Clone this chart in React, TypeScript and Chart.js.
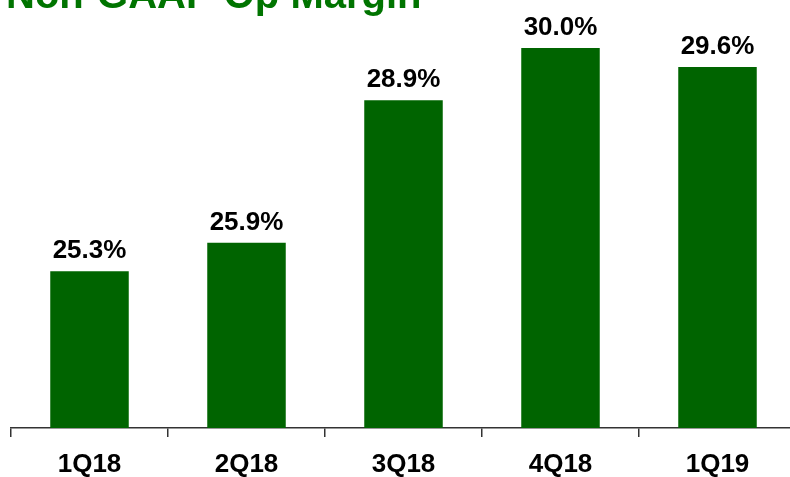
import React, { useEffect, useRef } from "react";
import { Chart, registerables } from "chart.js";

Chart.register(...registerables);

const categories = ["1Q18", "2Q18", "3Q18", "4Q18", "1Q19"];
const opMargin = [25.3, 25.9, 28.9, 30.0, 29.6];
const valueLabels = ["25.3%", "25.9%", "28.9%", "30.0%", "29.6%"];
const titleText = "Non-GAAP Op Margin";

const FONT = "'Liberation Sans', Arial, Helvetica, sans-serif";
const BAR_GREEN = "#006400";
const TITLE_GREEN = "#007400";

const labelPlugin = {
  id: "valueLabels",
  afterDatasetsDraw(chart: any) {
    const ctx = chart.ctx;
    const meta = chart.getDatasetMeta(0);
    ctx.save();
    ctx.font = `bold 26px ${FONT}`;
    ctx.fillStyle = "#000";
    ctx.textAlign = "center";
    ctx.textBaseline = "alphabetic";
    meta.data.forEach((bar: any, i: number) => {
      ctx.fillText(valueLabels[i], bar.x, bar.y - 13);
    });
    ctx.restore();
  },
  afterDraw(chart: any) {
    const ctx = chart.ctx;
    ctx.save();
    ctx.font = `bold 40px ${FONT}`;
    ctx.fillStyle = TITLE_GREEN;
    ctx.textAlign = "left";
    ctx.textBaseline = "alphabetic";
    ctx.fillText(titleText, 6, 8);
    ctx.restore();
  },
};

export default function App() {
  const canvasRef = useRef<HTMLCanvasElement>(null);

  useEffect(() => {
    const canvas = canvasRef.current;
    if (!canvas) return;
    const chart = new Chart(canvas, {
      type: "bar",
      data: {
        labels: categories,
        datasets: [
          {
            data: opMargin,
            backgroundColor: BAR_GREEN,
            borderWidth: 0,
            barPercentage: 0.5,
            categoryPercentage: 1,
          },
        ],
      },
      options: {
        responsive: false,
        animation: false,
        devicePixelRatio: 1,
        layout: { padding: { top: 48, left: 11, right: 4, bottom: 0 } },
        plugins: {
          legend: { display: false },
          tooltip: { enabled: false },
          title: { display: false },
        },
        scales: {
          x: {
            offset: true,
            afterFit(scale: any) {
              scale.height = 49;
            },
            grid: {
              offset: true,
              drawOnChartArea: false,
              drawTicks: true,
              tickLength: 9,
              color: "#333",
              lineWidth: 1.5,
            },
            border: { display: true, color: "#333", width: 1.5 },
            ticks: {
              color: "#000",
              padding: 18,
              font: { family: FONT, size: 26, weight: "bold", lineHeight: 0.74 },
              maxRotation: 0,
            },
          },
          y: {
            display: false,
            min: 22,
            max: 30,
          },
        },
      },
      plugins: [labelPlugin],
    });
    return () => chart.destroy();
  }, []);

  return (
    <div style={{ position: "absolute", left: 0, top: 0, width: 790, height: 477, overflow: "hidden", background: "#fff" }}>
      <canvas ref={canvasRef} width={800} height={477} style={{ display: "block" }} />
    </div>
  );
}
